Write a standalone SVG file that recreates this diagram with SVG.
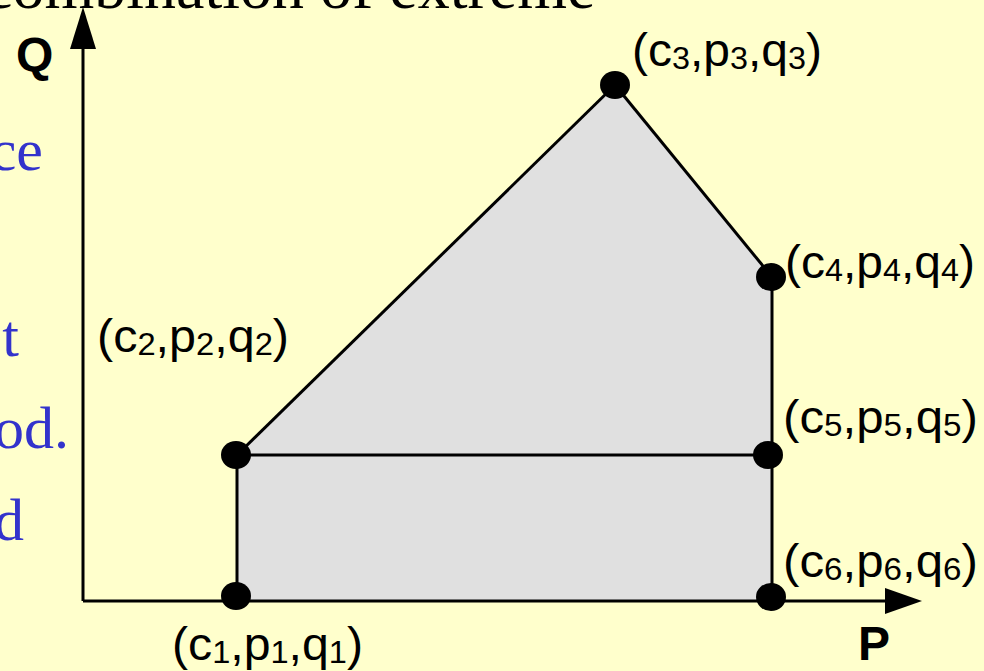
<svg xmlns="http://www.w3.org/2000/svg" width="984" height="671" viewBox="0 0 984 671">
  <style>
    .bg { fill: #FFFFCC; }
    .region { fill: #E0E0E0; stroke: none; }
    .edge { stroke: #000; stroke-width: 3; fill: none; }
    .axis { stroke: #000; stroke-width: 3; fill: none; }
    .head { fill: #000; }
    .dot { fill: #000; }
    .lbl { font-family: "Liberation Sans", Arial, sans-serif; font-size: 46px; fill: #000; }
    .sub { font-size: 31px; }
    .axlbl { font-family: "Liberation Sans", Arial, sans-serif; font-size: 48px; font-weight: bold; fill: #000; }
    .blue { font-family: "Liberation Serif", "Times New Roman", serif; font-size: 60px; fill: #3333CC; }
    .title { font-family: "Liberation Serif", "Times New Roman", serif; font-size: 64px; fill: #000; }
  </style>
  <rect class="bg" x="0" y="0" width="984" height="671"/>

  <!-- clipped slide text -->
  <text class="title" x="-16" y="8">combination of extreme</text>
  <g id="side-text">
    <text class="blue" x="43" y="170" text-anchor="end">ce</text>
    <text class="blue" x="19" y="356" text-anchor="end">t</text>
    <text class="blue" x="69" y="448" text-anchor="end">od.</text>
    <text class="blue" x="24" y="540" text-anchor="end">d</text>
  </g>

  <polygon class="region" points="237,455 615,85 772,277 772,601 237,601"/>

  <g id="connectors">
    <line class="edge" x1="237" y1="455" x2="615" y2="85"/>
    <line class="edge" x1="615" y1="85" x2="772" y2="277"/>
    <line class="edge" x1="772" y1="277" x2="772" y2="455"/>
    <line class="edge" x1="772" y1="455" x2="772" y2="601"/>
    <line class="edge" x1="237" y1="455" x2="772" y2="455"/>
    <line class="edge" x1="237" y1="455" x2="237" y2="601"/>
    <line class="axis" x1="83" y1="601" x2="83" y2="45"/>
    <polygon class="head" points="83,7 70,49 96,49"/>
    <line class="axis" x1="83" y1="601" x2="888" y2="601"/>
    <polygon class="head" points="922,601 885,588 885,614"/>
  </g>

  <g id="axis-Q"><text class="axlbl" x="16" y="71">Q</text></g>
  <g id="axis-P"><text class="axlbl" x="858" y="660">P</text></g>

  <g id="node-1">
    <ellipse class="dot" cx="236" cy="596" rx="15" ry="14"/>
    <text class="lbl" x="172" y="660" textLength="191" lengthAdjust="spacingAndGlyphs">(c<tspan class="sub" dy="3">1</tspan><tspan dy="-3">,p</tspan><tspan class="sub" dy="3">1</tspan><tspan dy="-3">,q</tspan><tspan class="sub" dy="3">1</tspan><tspan dy="-3">)</tspan></text>
  </g>
  <g id="node-2">
    <ellipse class="dot" cx="236" cy="455" rx="15" ry="14"/>
    <text class="lbl" x="97" y="352" textLength="192" lengthAdjust="spacingAndGlyphs">(c<tspan class="sub" dy="3">2</tspan><tspan dy="-3">,p</tspan><tspan class="sub" dy="3">2</tspan><tspan dy="-3">,q</tspan><tspan class="sub" dy="3">2</tspan><tspan dy="-3">)</tspan></text>
  </g>
  <g id="node-3">
    <ellipse class="dot" cx="615" cy="85" rx="15" ry="14"/>
    <text class="lbl" x="632" y="66" textLength="190" lengthAdjust="spacingAndGlyphs">(c<tspan class="sub" dy="3">3</tspan><tspan dy="-3">,p</tspan><tspan class="sub" dy="3">3</tspan><tspan dy="-3">,q</tspan><tspan class="sub" dy="3">3</tspan><tspan dy="-3">)</tspan></text>
  </g>
  <g id="node-4">
    <ellipse class="dot" cx="771" cy="277" rx="15" ry="14"/>
    <text class="lbl" x="785" y="278" textLength="190" lengthAdjust="spacingAndGlyphs">(c<tspan class="sub" dy="3">4</tspan><tspan dy="-3">,p</tspan><tspan class="sub" dy="3">4</tspan><tspan dy="-3">,q</tspan><tspan class="sub" dy="3">4</tspan><tspan dy="-3">)</tspan></text>
  </g>
  <g id="node-5">
    <ellipse class="dot" cx="768" cy="455" rx="15" ry="14"/>
    <text class="lbl" x="783" y="433" textLength="195" lengthAdjust="spacingAndGlyphs">(c<tspan class="sub" dy="3">5</tspan><tspan dy="-3">,p</tspan><tspan class="sub" dy="3">5</tspan><tspan dy="-3">,q</tspan><tspan class="sub" dy="3">5</tspan><tspan dy="-3">)</tspan></text>
  </g>
  <g id="node-6">
    <ellipse class="dot" cx="771" cy="597" rx="15" ry="14"/>
    <text class="lbl" x="783" y="577" textLength="195" lengthAdjust="spacingAndGlyphs">(c<tspan class="sub" dy="3">6</tspan><tspan dy="-3">,p</tspan><tspan class="sub" dy="3">6</tspan><tspan dy="-3">,q</tspan><tspan class="sub" dy="3">6</tspan><tspan dy="-3">)</tspan></text>
  </g>
</svg>
